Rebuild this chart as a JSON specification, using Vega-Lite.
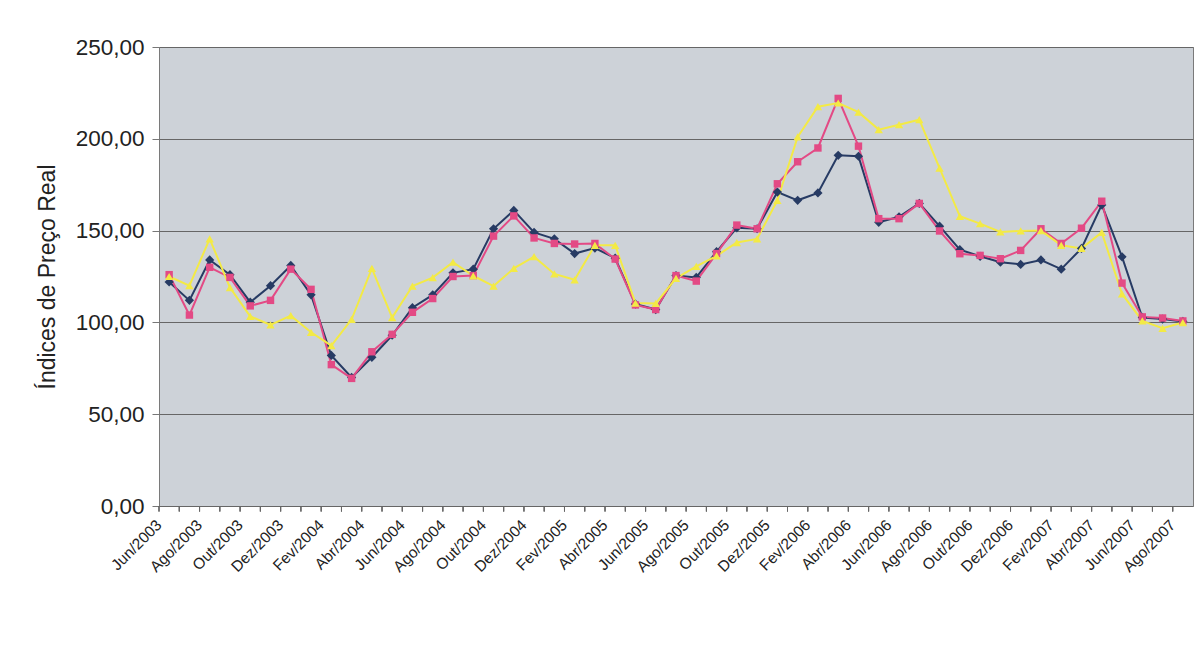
{
  "$schema": "https://vega.github.io/schema/vega-lite/v6.json",
  "width": 1034,
  "height": 459,
  "autosize": {"type": "none"},
  "padding": {"left": 159, "top": 47, "right": 5, "bottom": 142},
  "background": "white",
  "config": {
    "font": "Liberation Sans",
    "view": {"fill": "#cdd2d8", "stroke": "#7a7a7a", "strokeWidth": 1},
    "locale": {"number": {"decimal": ",", "thousands": ".", "grouping": [3], "currency": ["R$", ""]}}
  },
  "data": {"values": [
      {"m":"Jun/2003","s":"Álcool Anidro ao Produtor","v":122},{"m":"Jul/2003","s":"Álcool Anidro ao Produtor","v":112},{"m":"Ago/2003","s":"Álcool Anidro ao Produtor","v":134},{"m":"Set/2003","s":"Álcool Anidro ao Produtor","v":126},{"m":"Out/2003","s":"Álcool Anidro ao Produtor","v":111},{"m":"Nov/2003","s":"Álcool Anidro ao Produtor","v":120},{"m":"Dez/2003","s":"Álcool Anidro ao Produtor","v":131},{"m":"Jan/2004","s":"Álcool Anidro ao Produtor","v":115},{"m":"Fev/2004","s":"Álcool Anidro ao Produtor","v":82},{"m":"Mar/2004","s":"Álcool Anidro ao Produtor","v":70},{"m":"Abr/2004","s":"Álcool Anidro ao Produtor","v":81},{"m":"Mai/2004","s":"Álcool Anidro ao Produtor","v":93},{"m":"Jun/2004","s":"Álcool Anidro ao Produtor","v":108},{"m":"Jul/2004","s":"Álcool Anidro ao Produtor","v":115},{"m":"Ago/2004","s":"Álcool Anidro ao Produtor","v":127},{"m":"Set/2004","s":"Álcool Anidro ao Produtor","v":129},{"m":"Out/2004","s":"Álcool Anidro ao Produtor","v":151},{"m":"Nov/2004","s":"Álcool Anidro ao Produtor","v":161},{"m":"Dez/2004","s":"Álcool Anidro ao Produtor","v":149},{"m":"Jan/2005","s":"Álcool Anidro ao Produtor","v":145.5},{"m":"Fev/2005","s":"Álcool Anidro ao Produtor","v":137.5},{"m":"Mar/2005","s":"Álcool Anidro ao Produtor","v":140.5},{"m":"Abr/2005","s":"Álcool Anidro ao Produtor","v":135},{"m":"Mai/2005","s":"Álcool Anidro ao Produtor","v":110},{"m":"Jun/2005","s":"Álcool Anidro ao Produtor","v":107},{"m":"Jul/2005","s":"Álcool Anidro ao Produtor","v":125.5},{"m":"Ago/2005","s":"Álcool Anidro ao Produtor","v":124.5},{"m":"Set/2005","s":"Álcool Anidro ao Produtor","v":138.5},{"m":"Out/2005","s":"Álcool Anidro ao Produtor","v":151.5},{"m":"Nov/2005","s":"Álcool Anidro ao Produtor","v":151},{"m":"Dez/2005","s":"Álcool Anidro ao Produtor","v":171},{"m":"Jan/2006","s":"Álcool Anidro ao Produtor","v":166.5},{"m":"Fev/2006","s":"Álcool Anidro ao Produtor","v":170.5},{"m":"Mar/2006","s":"Álcool Anidro ao Produtor","v":191},{"m":"Abr/2006","s":"Álcool Anidro ao Produtor","v":190.5},{"m":"Mai/2006","s":"Álcool Anidro ao Produtor","v":154.5},{"m":"Jun/2006","s":"Álcool Anidro ao Produtor","v":157.5},{"m":"Jul/2006","s":"Álcool Anidro ao Produtor","v":164.8},{"m":"Ago/2006","s":"Álcool Anidro ao Produtor","v":152.4},{"m":"Set/2006","s":"Álcool Anidro ao Produtor","v":139.6},{"m":"Out/2006","s":"Álcool Anidro ao Produtor","v":136},{"m":"Nov/2006","s":"Álcool Anidro ao Produtor","v":132.8},{"m":"Dez/2006","s":"Álcool Anidro ao Produtor","v":131.6},{"m":"Jan/2007","s":"Álcool Anidro ao Produtor","v":134},{"m":"Fev/2007","s":"Álcool Anidro ao Produtor","v":129},{"m":"Mar/2007","s":"Álcool Anidro ao Produtor","v":140.3},{"m":"Abr/2007","s":"Álcool Anidro ao Produtor","v":164},{"m":"Mai/2007","s":"Álcool Anidro ao Produtor","v":135.7},{"m":"Jun/2007","s":"Álcool Anidro ao Produtor","v":102.7},{"m":"Jul/2007","s":"Álcool Anidro ao Produtor","v":101.8},{"m":"Ago/2007","s":"Álcool Anidro ao Produtor","v":100.5},
      {"m":"Jun/2003","s":"Álcool Hidratado ao Produtor","v":126},{"m":"Jul/2003","s":"Álcool Hidratado ao Produtor","v":104},{"m":"Ago/2003","s":"Álcool Hidratado ao Produtor","v":130},{"m":"Set/2003","s":"Álcool Hidratado ao Produtor","v":124.5},{"m":"Out/2003","s":"Álcool Hidratado ao Produtor","v":109},{"m":"Nov/2003","s":"Álcool Hidratado ao Produtor","v":112},{"m":"Dez/2003","s":"Álcool Hidratado ao Produtor","v":129},{"m":"Jan/2004","s":"Álcool Hidratado ao Produtor","v":118},{"m":"Fev/2004","s":"Álcool Hidratado ao Produtor","v":77},{"m":"Mar/2004","s":"Álcool Hidratado ao Produtor","v":69.5},{"m":"Abr/2004","s":"Álcool Hidratado ao Produtor","v":84},{"m":"Mai/2004","s":"Álcool Hidratado ao Produtor","v":93.5},{"m":"Jun/2004","s":"Álcool Hidratado ao Produtor","v":105.5},{"m":"Jul/2004","s":"Álcool Hidratado ao Produtor","v":113},{"m":"Ago/2004","s":"Álcool Hidratado ao Produtor","v":125},{"m":"Set/2004","s":"Álcool Hidratado ao Produtor","v":125.5},{"m":"Out/2004","s":"Álcool Hidratado ao Produtor","v":147},{"m":"Nov/2004","s":"Álcool Hidratado ao Produtor","v":158},{"m":"Dez/2004","s":"Álcool Hidratado ao Produtor","v":146},{"m":"Jan/2005","s":"Álcool Hidratado ao Produtor","v":143},{"m":"Fev/2005","s":"Álcool Hidratado ao Produtor","v":142.7},{"m":"Mar/2005","s":"Álcool Hidratado ao Produtor","v":143},{"m":"Abr/2005","s":"Álcool Hidratado ao Produtor","v":134.5},{"m":"Mai/2005","s":"Álcool Hidratado ao Produtor","v":109.5},{"m":"Jun/2005","s":"Álcool Hidratado ao Produtor","v":107},{"m":"Jul/2005","s":"Álcool Hidratado ao Produtor","v":125.5},{"m":"Ago/2005","s":"Álcool Hidratado ao Produtor","v":122.5},{"m":"Set/2005","s":"Álcool Hidratado ao Produtor","v":137.5},{"m":"Out/2005","s":"Álcool Hidratado ao Produtor","v":153},{"m":"Nov/2005","s":"Álcool Hidratado ao Produtor","v":151},{"m":"Dez/2005","s":"Álcool Hidratado ao Produtor","v":175.5},{"m":"Jan/2006","s":"Álcool Hidratado ao Produtor","v":187.5},{"m":"Fev/2006","s":"Álcool Hidratado ao Produtor","v":195},{"m":"Mar/2006","s":"Álcool Hidratado ao Produtor","v":222},{"m":"Abr/2006","s":"Álcool Hidratado ao Produtor","v":196},{"m":"Mai/2006","s":"Álcool Hidratado ao Produtor","v":156.5},{"m":"Jun/2006","s":"Álcool Hidratado ao Produtor","v":156.5},{"m":"Jul/2006","s":"Álcool Hidratado ao Produtor","v":164.8},{"m":"Ago/2006","s":"Álcool Hidratado ao Produtor","v":149.8},{"m":"Set/2006","s":"Álcool Hidratado ao Produtor","v":137.4},{"m":"Out/2006","s":"Álcool Hidratado ao Produtor","v":136.5},{"m":"Nov/2006","s":"Álcool Hidratado ao Produtor","v":134.7},{"m":"Dez/2006","s":"Álcool Hidratado ao Produtor","v":139.2},{"m":"Jan/2007","s":"Álcool Hidratado ao Produtor","v":151},{"m":"Fev/2007","s":"Álcool Hidratado ao Produtor","v":143},{"m":"Mar/2007","s":"Álcool Hidratado ao Produtor","v":151.3},{"m":"Abr/2007","s":"Álcool Hidratado ao Produtor","v":166},{"m":"Mai/2007","s":"Álcool Hidratado ao Produtor","v":121.4},{"m":"Jun/2007","s":"Álcool Hidratado ao Produtor","v":103},{"m":"Jul/2007","s":"Álcool Hidratado ao Produtor","v":102.4},{"m":"Ago/2007","s":"Álcool Hidratado ao Produtor","v":100.8},
      {"m":"Jun/2003","s":"Açúcar Cristal Merc. Interno","v":125},{"m":"Jul/2003","s":"Açúcar Cristal Merc. Interno","v":120},{"m":"Ago/2003","s":"Açúcar Cristal Merc. Interno","v":145.5},{"m":"Set/2003","s":"Açúcar Cristal Merc. Interno","v":119},{"m":"Out/2003","s":"Açúcar Cristal Merc. Interno","v":103.3},{"m":"Nov/2003","s":"Açúcar Cristal Merc. Interno","v":98.6},{"m":"Dez/2003","s":"Açúcar Cristal Merc. Interno","v":103.7},{"m":"Jan/2004","s":"Açúcar Cristal Merc. Interno","v":94.6},{"m":"Fev/2004","s":"Açúcar Cristal Merc. Interno","v":87.4},{"m":"Mar/2004","s":"Açúcar Cristal Merc. Interno","v":101.7},{"m":"Abr/2004","s":"Açúcar Cristal Merc. Interno","v":129.4},{"m":"Mai/2004","s":"Açúcar Cristal Merc. Interno","v":102.6},{"m":"Jun/2004","s":"Açúcar Cristal Merc. Interno","v":119.8},{"m":"Jul/2004","s":"Açúcar Cristal Merc. Interno","v":124.4},{"m":"Ago/2004","s":"Açúcar Cristal Merc. Interno","v":132.8},{"m":"Set/2004","s":"Açúcar Cristal Merc. Interno","v":125.4},{"m":"Out/2004","s":"Açúcar Cristal Merc. Interno","v":119.8},{"m":"Nov/2004","s":"Açúcar Cristal Merc. Interno","v":129.4},{"m":"Dez/2004","s":"Açúcar Cristal Merc. Interno","v":135.8},{"m":"Jan/2005","s":"Açúcar Cristal Merc. Interno","v":126.4},{"m":"Fev/2005","s":"Açúcar Cristal Merc. Interno","v":123.2},{"m":"Mar/2005","s":"Açúcar Cristal Merc. Interno","v":142},{"m":"Abr/2005","s":"Açúcar Cristal Merc. Interno","v":142},{"m":"Mai/2005","s":"Açúcar Cristal Merc. Interno","v":110.5},{"m":"Jun/2005","s":"Açúcar Cristal Merc. Interno","v":110.3},{"m":"Jul/2005","s":"Açúcar Cristal Merc. Interno","v":124},{"m":"Ago/2005","s":"Açúcar Cristal Merc. Interno","v":130.5},{"m":"Set/2005","s":"Açúcar Cristal Merc. Interno","v":136.2},{"m":"Out/2005","s":"Açúcar Cristal Merc. Interno","v":143.5},{"m":"Nov/2005","s":"Açúcar Cristal Merc. Interno","v":145.5},{"m":"Dez/2005","s":"Açúcar Cristal Merc. Interno","v":166.5},{"m":"Jan/2006","s":"Açúcar Cristal Merc. Interno","v":201},{"m":"Fev/2006","s":"Açúcar Cristal Merc. Interno","v":217.5},{"m":"Mar/2006","s":"Açúcar Cristal Merc. Interno","v":219.5},{"m":"Abr/2006","s":"Açúcar Cristal Merc. Interno","v":214.5},{"m":"Mai/2006","s":"Açúcar Cristal Merc. Interno","v":205},{"m":"Jun/2006","s":"Açúcar Cristal Merc. Interno","v":207.7},{"m":"Jul/2006","s":"Açúcar Cristal Merc. Interno","v":210.4},{"m":"Ago/2006","s":"Açúcar Cristal Merc. Interno","v":184},{"m":"Set/2006","s":"Açúcar Cristal Merc. Interno","v":157.8},{"m":"Out/2006","s":"Açúcar Cristal Merc. Interno","v":153.8},{"m":"Nov/2006","s":"Açúcar Cristal Merc. Interno","v":149.3},{"m":"Dez/2006","s":"Açúcar Cristal Merc. Interno","v":149.8},{"m":"Jan/2007","s":"Açúcar Cristal Merc. Interno","v":150},{"m":"Fev/2007","s":"Açúcar Cristal Merc. Interno","v":142},{"m":"Mar/2007","s":"Açúcar Cristal Merc. Interno","v":140.3},{"m":"Abr/2007","s":"Açúcar Cristal Merc. Interno","v":149},{"m":"Mai/2007","s":"Açúcar Cristal Merc. Interno","v":115.5},{"m":"Jun/2007","s":"Açúcar Cristal Merc. Interno","v":100.8},{"m":"Jul/2007","s":"Açúcar Cristal Merc. Interno","v":96.8},{"m":"Ago/2007","s":"Açúcar Cristal Merc. Interno","v":99.9}
  ]},
  "encoding": {
    "x": {
      "field": "m", "type": "ordinal",
      "scale": {"type": "band", "paddingInner": 0, "paddingOuter": 0,
        "domain": ["Jun/2003","Jul/2003","Ago/2003","Set/2003","Out/2003","Nov/2003","Dez/2003","Jan/2004","Fev/2004","Mar/2004","Abr/2004","Mai/2004","Jun/2004","Jul/2004","Ago/2004","Set/2004","Out/2004","Nov/2004","Dez/2004","Jan/2005","Fev/2005","Mar/2005","Abr/2005","Mai/2005","Jun/2005","Jul/2005","Ago/2005","Set/2005","Out/2005","Nov/2005","Dez/2005","Jan/2006","Fev/2006","Mar/2006","Abr/2006","Mai/2006","Jun/2006","Jul/2006","Ago/2006","Set/2006","Out/2006","Nov/2006","Dez/2006","Jan/2007","Fev/2007","Mar/2007","Abr/2007","Mai/2007","Jun/2007","Jul/2007","Ago/2007"]},
      "axis": {
        "title": null, "labelAngle": -45, "labelFontSize": 15.5, "labelColor": "#222",
        "labelBaseline": "middle", "labelOffset": -10,
        "values": ["Jun/2003","Ago/2003","Out/2003","Dez/2003","Fev/2004","Abr/2004","Jun/2004","Ago/2004","Out/2004","Dez/2004","Fev/2005","Abr/2005","Jun/2005","Ago/2005","Out/2005","Dez/2005","Fev/2006","Abr/2006","Jun/2006","Ago/2006","Out/2006","Dez/2006","Fev/2007","Abr/2007","Jun/2007","Ago/2007"],
        "labelOverlap": false, "ticks": false,
        "domain": false, "grid": false, "labelPadding": 16
      }
    },
    "y": {
      "field": "v", "type": "quantitative",
      "scale": {"domain": [0, 250], "nice": false},
      "axis": {
        "values": [0, 50, 100, 150, 200, 250],
        "format": ".2f",
        "title": "Índices de Preço Real", "titleFontSize": 23, "titleFontWeight": "normal",
        "titleColor": "#222", "titlePadding": 16,
        "labelFontSize": 22.5, "labelColor": "#222", "labelPadding": 8,
        "grid": true, "gridColor": "#666", "gridWidth": 1,
        "domain": false, "tickSize": 7, "tickColor": "#777"
      }
    }
  },
  "layer": [
    {
      "mark": {"type": "rule", "color": "#666", "strokeWidth": 1},
      "encoding": {
        "x": {"field": "m", "type": "ordinal", "bandPosition": 0},
        "y": {"datum": 0},
        "y2": {"datum": -3}
      }
    },
    {
      "mark": {"type": "line", "strokeWidth": 2},
      "encoding": {"stroke": {"field": "s", "type": "nominal", "legend": null,
        "scale": {"domain": ["Álcool Anidro ao Produtor","Álcool Hidratado ao Produtor","Açúcar Cristal Merc. Interno"], "range": ["#273b64","#e34a85","#f3ea45"]}}}
    },
    {
      "transform": [{"filter": {"field": "s", "equal": "Álcool Anidro ao Produtor"}}],
      "mark": {"type": "point", "shape": "diamond", "filled": true, "size": 85, "opacity": 1, "color": "#273b64"}
    },
    {
      "transform": [{"filter": {"field": "s", "equal": "Álcool Hidratado ao Produtor"}}],
      "mark": {"type": "point", "shape": "square", "filled": true, "size": 55, "opacity": 1, "color": "#e34a85"}
    },
    {
      "transform": [{"filter": {"field": "s", "equal": "Açúcar Cristal Merc. Interno"}}],
      "mark": {"type": "point", "shape": "triangle-up", "filled": true, "size": 70, "opacity": 1, "color": "#f3ea45"}
    },
    {
      "mark": {"type": "point", "filled": false, "size": 0, "opacity": 1},
      "encoding": {
        "color": {"field": "s", "type": "nominal",
          "scale": {"domain": ["Álcool Anidro ao Produtor","Álcool Hidratado ao Produtor","Açúcar Cristal Merc. Interno"], "range": ["#273b64","#e34a85","#f3ea45"]},
          "legend": {"orient": "bottom", "offset": 46, "direction": "horizontal", "title": null,
            "labelFontSize": 22, "labelColor": "#222", "labelLimit": 600, "symbolSize": 1225,
            "symbolStrokeWidth": 2, "strokeColor": "#999", "fillColor": "white", "padding": 7,
            "columnPadding": 8, "labelOffset": 3}},
        "shape": {"field": "s", "type": "nominal",
          "scale": {"domain": ["Álcool Anidro ao Produtor","Álcool Hidratado ao Produtor","Açúcar Cristal Merc. Interno"],
            "range": ["M-1,0H1M0,-0.2L0.2,0L0,0.2L-0.2,0Z", "M-1,0H1M-0.14,-0.14H0.14V0.14H-0.14Z", "M-1,0H1M0,-0.2L0.19,0.14H-0.19Z"]},
          "legend": {"orient": "bottom", "offset": 46, "direction": "horizontal", "title": null,
            "labelFontSize": 22, "labelColor": "#222", "labelLimit": 600, "symbolSize": 1225,
            "symbolStrokeWidth": 2, "strokeColor": "#999", "fillColor": "white", "padding": 7,
            "columnPadding": 8, "labelOffset": 3}}
      }
    }
  ]
}
